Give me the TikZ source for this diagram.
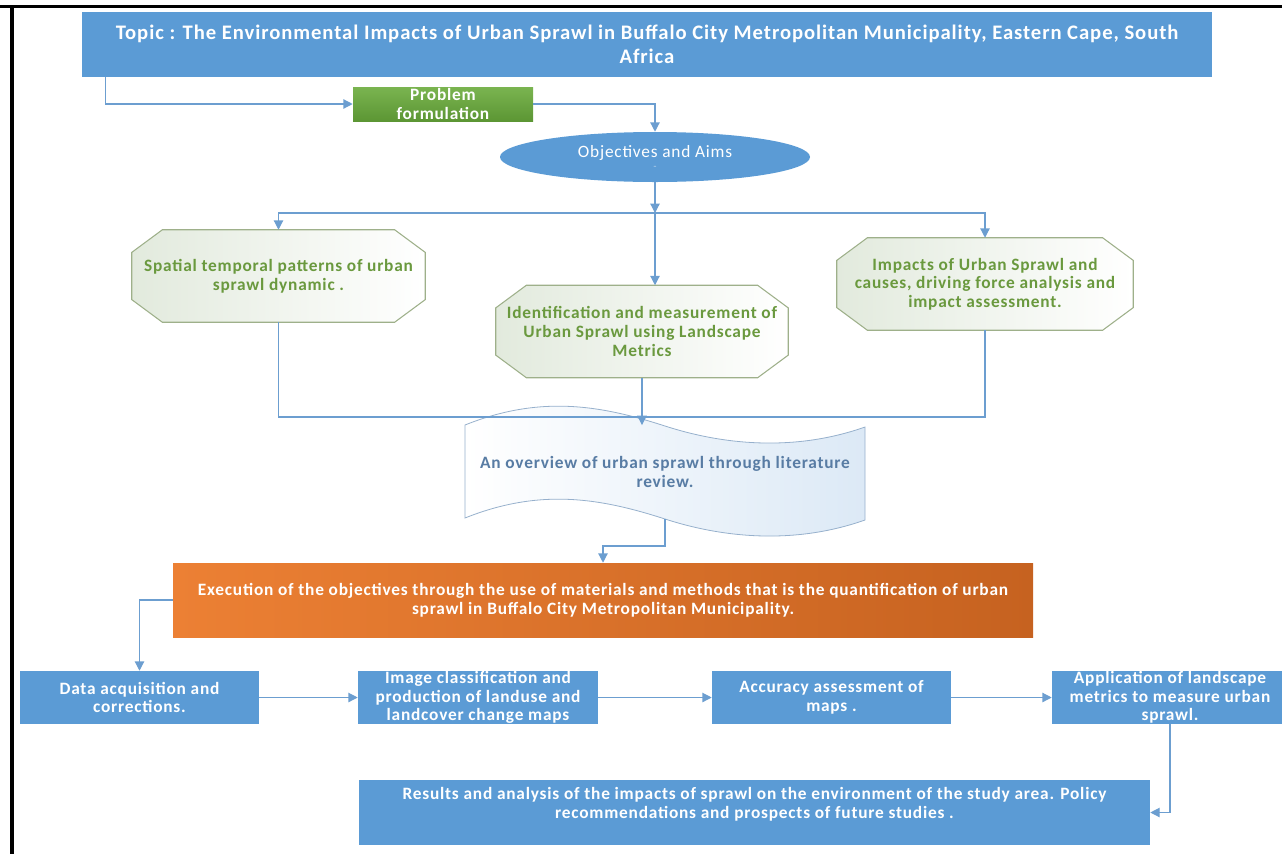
\documentclass[tikz,border=0pt]{standalone}
\usepackage{fontspec}
\setmainfont{Carlito}[LetterSpace=4.5]
\usetikzlibrary{arrows.meta,shapes.geometric,backgrounds}
\definecolor{boxblue}{RGB}{91,155,213}
\definecolor{lineblue}{RGB}{108,158,208}
\definecolor{octgreen}{RGB}{106,153,62}
\definecolor{octedge}{RGB}{158,176,138}
\definecolor{octfill}{RGB}{226,234,221}
\definecolor{tapetext}{RGB}{88,124,164}
\definecolor{tapeedge}{RGB}{150,176,204}
\definecolor{tapefill}{RGB}{220,233,246}
\definecolor{probtop}{RGB}{122,180,80}
\definecolor{probbot}{RGB}{92,150,52}
\definecolor{execleft}{RGB}{236,128,52}
\definecolor{execright}{RGB}{198,98,32}
\begin{document}
\begin{tikzpicture}[x=0.75pt,y=-0.75pt,
  txt/.style={font=\bfseries\fontsize{13}{14}\selectfont,align=center,inner sep=0pt},
  bluebox/.style={txt,rectangle,fill=boxblue,text=white},
  octbox/.style={txt,rectangle,text=octgreen,minimum height=69pt},
  link/.style={draw=lineblue,line width=0.9pt},
  arr/.style={link,-{Triangle[length=7pt,width=7pt]}}]
\useasboundingbox (0,0) rectangle (1282,854);
\draw[line width=2.25pt] (0,6.5) -- (1282,6.5);
\draw[line width=3pt] (12,6.5) -- (12,854);

\node[bluebox,minimum width=847.5pt,minimum height=48.75pt,font=\bfseries\fontsize{15.5}{18}\selectfont] (topic) at (647,44.5)
  {Topic : The Environmental Impacts of Urban Sprawl in Buffalo City Metropolitan Municipality, Eastern Cape, South\\Africa};
\node[txt,rectangle,top color=probtop,bottom color=probbot,text=white,minimum width=135pt,minimum height=25.5pt] (prob) at (443,104)
  {Problem\\formulation};
\node[txt,ellipse,fill=boxblue,text=white,minimum width=232.5pt,minimum height=37.5pt,font=\fontsize{13}{14}\selectfont] (obj) at (655,157)
  {Objectives and Aims\\[-6pt]{\tiny --}};

\node[octbox,minimum width=219.75pt] (spat) at (278.5,276) {Spatial temporal patterns of urban\\sprawl dynamic .};
\node[octbox,minimum width=219pt] (ident) at (642,331.5) {Identification and measurement of\\Urban Sprawl using Landscape\\Metrics};
\node[octbox,minimum width=222pt] (impact) at (985,284) {Impacts of Urban Sprawl and\\causes, driving force analysis and\\impact assessment.};
\begin{scope}[on background layer]
\foreach \n in {spat,ident,impact}
  \draw[octedge,line width=0.8pt,left color=octfill,right color=white]
    ([xshift=23pt]\n.north west) -- ([xshift=-23pt]\n.north east) -- ([yshift=-17pt]\n.north east)
    -- ([yshift=17pt]\n.south east) -- ([xshift=-23pt]\n.south east) -- ([xshift=23pt]\n.south west)
    -- ([yshift=17pt]\n.south west) -- ([yshift=-17pt]\n.north west) -- cycle;
\end{scope}

\draw[tapeedge,line width=0.6pt,left color=white,right color=tapefill,shift={(665,472)}]
  (-200,-47) .. controls (-125,-77) and (-65,-67) .. (0,-46) .. controls (65,-25) and (135,-22) .. (200,-45)
  -- (200,48) .. controls (135,71) and (65,68) .. (0,47) .. controls (-65,26) and (-125,16) .. (-200,46) -- cycle;
\node[txt,text=tapetext,font=\bfseries\fontsize{13}{14.5}\selectfont,minimum width=300pt,minimum height=70pt] (review) at (665,472)
  {An overview of urban sprawl through literature\\review.};

\node[bluebox,left color=execleft,right color=execright,minimum width=645pt,minimum height=55.5pt] (exec) at (603,600)
  {Execution of the objectives through the use of materials and methods that is the quantification of urban\\sprawl in Buffalo City Metropolitan Municipality.};

\node[bluebox,minimum width=179.25pt,minimum height=39.75pt] (data) at (139.5,697.5) {Data acquisition and\\corrections.};
\node[bluebox,minimum width=180pt,minimum height=39.75pt] (img) at (478,697.5) {Image classification and\\production of landuse and\\landcover change maps};
\node[bluebox,minimum width=179.25pt,minimum height=39.75pt] (acc) at (831.5,697.5) {Accuracy assessment of\\maps .};
\node[bluebox,minimum width=177pt,minimum height=39.75pt] (app) at (1170,697.5) {Application of landscape\\metrics to measure urban\\sprawl.};
\node[bluebox,minimum width=593.25pt,minimum height=48.75pt] (res) at (754.5,812.5)
  {Results and analysis of the impacts of sprawl on the environment of the study area. Policy\\recommendations and prospects of future studies .\\ ~};

\coordinate (split) at (obj.south |- 0,213);
\coordinate (join) at (ident.south |- 0,417);
\draw[arr] ([xshift=18pt]topic.south west) |- (prob.west);
\draw[arr] (prob.east) -| (obj.north);
\draw[arr] (obj.south) -- (split);
\draw[arr] (split) -| (spat.north);
\draw[arr] (split) -| (impact.north);
\draw[arr] (split) -- (split |- ident.north);
\draw[link] (spat.south) |- (join) -| (impact.south);
\draw[arr] (ident.south) -- (ident.south |- review.north);
\draw[arr] (review.south) -- (review.south |- 0,546) -| (exec.north);
\draw[arr] (exec.west) -| (data.north);
\foreach \a/\b in {data/img,img/acc,acc/app}
  \draw[arr] (\a) -- (\b);
\draw[arr] (app.south) |- (res.east);

\end{tikzpicture}
\end{document}
